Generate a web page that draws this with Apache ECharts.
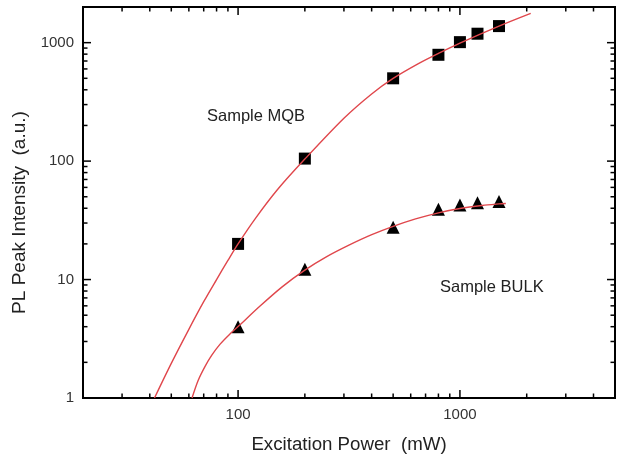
<!DOCTYPE html>
<html><head><meta charset="utf-8">
<script src="https://cdn.jsdelivr.net/npm/echarts@6/dist/echarts.min.js"></script>
<style>html,body{margin:0;padding:0;background:#fff}#c{width:618px;height:459px}</style>
</head><body><div id="c"></div>
<script>
// Measured points
const mqbPower = [100, 200, 500, 800, 1000, 1200, 1500];
const mqbIntensity = [20, 105, 500, 790, 1010, 1190, 1380];
const bulkPower = [100, 200, 500, 800, 1000, 1200, 1500];
const bulkIntensity = [4.0, 12.2, 27.7, 39.3, 42.5, 44.5, 45.5];
// Fitted curves
const mqbFitPower = [42, 50, 60, 70, 80, 90, 100, 120, 150, 200, 300, 400, 500, 650, 800, 1000, 1500, 2085];
const mqbFitIntensity = [1, 1.96, 3.8, 6.5, 10.0, 14.5, 20, 33, 57, 104, 230, 369, 499, 665, 811, 991, 1380, 1767];
const bulkFitPower = [62, 66, 71, 76, 83, 91, 100, 126, 158, 200, 251, 316, 398, 500, 631, 800, 1000, 1259, 1500, 1610];
const bulkFitIntensity = [1, 1.40, 1.85, 2.29, 2.85, 3.41, 4.01, 6.0, 8.67, 12.0, 15.6, 19.5, 23.8, 28.1, 32.5, 36.6, 39.8, 42.2, 43.5, 43.9];
// Tick labels
const xTickLabels = [100, 1000];
const yTickLabels = [1, 10, 100, 1000];
const X_MIN = 20, X_MAX = 5000, Y_MIN = 1, Y_MAX = 2000;

function zip(a, b) { return a.map((v, i) => [v, b[i]]); }
function decadeTicks(min, max) {
  const out = [];
  for (let d = 1; d <= 10000; d *= 10) {
    for (let k = 1; k < 10; k++) {
      const v = k * d;
      if (v <= min * 1.0001 || v >= max * 0.9999) continue;
      out.push([v, k === 1 ? 1 : 0]);
    }
  }
  return out;
}
const tickData = [];
decadeTicks(X_MIN, X_MAX).forEach(t => tickData.push([t[0], Y_MIN, 0, t[1]]));
decadeTicks(Y_MIN, Y_MAX).forEach(t => tickData.push([X_MIN, t[0], 1, t[1]]));

function isLabel(v, list) { return list.some(t => Math.abs(v - t) / t < 1e-6); }

const FONT = '"Liberation Sans", Arial, sans-serif';
const chart = echarts.init(document.getElementById('c'), null, { renderer: 'canvas' });
chart.setOption({
  animation: false,
  backgroundColor: '#fff',
  grid: { left: 83, right: 2, top: 7, bottom: 56, show: true, borderColor: '#000', borderWidth: 2, containLabel: false },
  xAxis: {
    type: 'log', min: X_MIN, max: X_MAX, logBase: 10,
    name: 'Excitation Power  (mW)', nameLocation: 'middle', nameGap: 37,
    nameTextStyle: { fontFamily: FONT, fontSize: 18.7, color: '#222' },
    axisLine: { lineStyle: { color: '#000', width: 2 } },
    axisTick: { show: false },
    splitLine: { show: false },
    axisLabel: { margin: 9, fontFamily: FONT, fontSize: 15, color: '#333',
      formatter: v => isLabel(v, xTickLabels) ? String(Math.round(v)) : '' }
  },
  yAxis: {
    type: 'log', min: Y_MIN, max: Y_MAX, logBase: 10,
    name: 'PL Peak Intensity  (a.u.)', nameLocation: 'middle', nameGap: 48,
    nameTextStyle: { fontFamily: FONT, fontSize: 19, color: '#222', padding: [0, 20, 0, 0] },
    axisLine: { lineStyle: { color: '#000', width: 2 } },
    axisTick: { show: false },
    splitLine: { show: false },
    axisLabel: { margin: 9, fontFamily: FONT, fontSize: 15, color: '#333',
      formatter: v => isLabel(v, yTickLabels) ? String(Math.round(v)) : '' }
  },
  graphic: [
    { type: 'text', left: 207, top: 108, style: { text: 'Sample MQB', font: '16.5px ' + FONT, fill: '#222' } },
    { type: 'text', left: 440, top: 279, style: { text: 'Sample BULK', font: '16.5px ' + FONT, fill: '#222' } }
  ],
  series: [
    { type: 'custom', data: tickData, silent: true, clip: false, z: 10,
      renderItem: function (params, api) {
        const kind = api.value(2), major = api.value(3);
        const len = major ? 8 : 4.5;
        const st = { stroke: '#000', lineWidth: 1.5 };
        if (kind === 0) {
          const b = api.coord([api.value(0), Y_MIN]);
          const t = api.coord([api.value(0), Y_MAX]);
          return { type: 'group', children: [
            { type: 'line', shape: { x1: b[0], y1: b[1], x2: b[0], y2: b[1] - len }, style: st },
            { type: 'line', shape: { x1: t[0], y1: t[1], x2: t[0], y2: t[1] + len }, style: st }
          ]};
        } else {
          const l = api.coord([X_MIN, api.value(1)]);
          const r = api.coord([X_MAX, api.value(1)]);
          return { type: 'group', children: [
            { type: 'line', shape: { x1: l[0], y1: l[1], x2: l[0] + len, y2: l[1] }, style: st },
            { type: 'line', shape: { x1: r[0], y1: r[1], x2: r[0] - len, y2: r[1] }, style: st }
          ]};
        }
      }
    },
    { name: 'Sample MQB', type: 'scatter', symbol: 'rect', symbolSize: 12, z: 3,
      itemStyle: { color: '#000', opacity: 1 }, data: zip(mqbPower, mqbIntensity) },
    { name: 'Sample BULK', type: 'scatter', symbol: 'triangle', symbolSize: 13, z: 3,
      itemStyle: { color: '#000', opacity: 1 }, data: zip(bulkPower, bulkIntensity) },
    { name: 'MQB fit', type: 'line', smooth: 0.3, showSymbol: false, z: 5,
      lineStyle: { color: '#e0474c', width: 1.4 }, data: zip(mqbFitPower, mqbFitIntensity) },
    { name: 'BULK fit', type: 'line', smooth: 0.3, showSymbol: false, z: 5,
      lineStyle: { color: '#e0474c', width: 1.4 }, data: zip(bulkFitPower, bulkFitIntensity) }
  ]
});
</script>
</body></html>
